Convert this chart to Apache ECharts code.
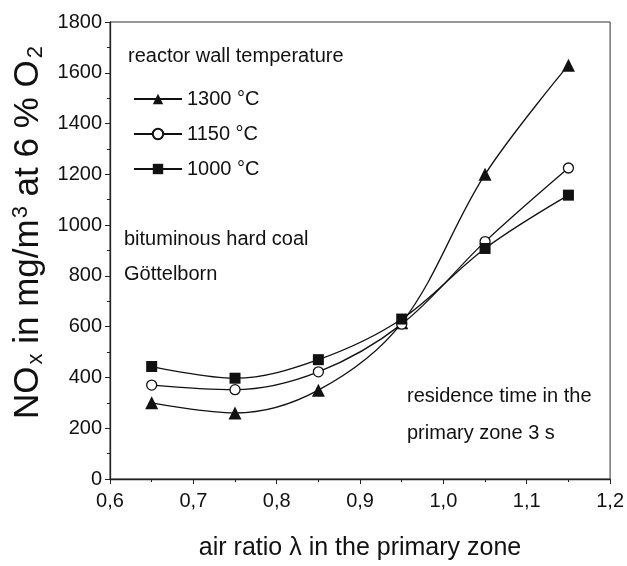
<!DOCTYPE html>
<html>
<head>
<meta charset="utf-8">
<script src="https://cdn.jsdelivr.net/npm/echarts@6/dist/echarts.min.js"></script>
<style>
  html, body { margin: 0; padding: 0; background: #fff; }
  #chart { width: 627px; height: 566px; }
</style>
</head>
<body>
<div id="chart"></div>
<script>
// air ratio in the primary zone
const airRatio = [0.65, 0.75, 0.85, 0.95, 1.05, 1.15]
// NOx in mg/m3 at 6 % O2, per reactor wall temperature
const nox1300 = [300, 260, 350, 615, 1200, 1630]
const nox1150 = [370, 352, 422, 610, 935, 1225]
const nox1000 = [443, 397, 470, 630, 908, 1118]
const yTicks = [0, 1800, 200]
const xTicks = [0.6, 1.2, 0.1]

const font = 'Liberation Sans, Arial, sans-serif'
const ink = '#111'

function pairs(ys) {
    return airRatio.map((x, i) => [x, ys[i]])
}

function makeSeries(name, symbol, size, ys) {
    const open = symbol === 'circle'
    return {
        name: name,
        type: 'line',
        smooth: 0.35,
        data: pairs(ys),
        symbol: symbol,
        symbolSize: size,
        lineStyle: { color: ink, width: 1.3 },
        itemStyle: { color: open ? '#fff' : ink, borderColor: ink, borderWidth: open ? 1.3 : 0 },
        emphasis: { disabled: true }
    }
}

const chart = echarts.init(document.getElementById('chart'))
chart.setOption({
    backgroundColor: '#fff',
    animation: false,
    textStyle: { fontFamily: font, color: ink },
    grid: {
        left: 110, right: 15, top: 22, bottom: 86,
        show: true, borderColor: '#333', borderWidth: 1
    },
    legend: {
        orient: 'vertical',
        left: 128, top: 84,
        itemWidth: 48, itemHeight: 13,
        itemGap: 15,
        textStyle: { fontSize: 20, color: ink, fontFamily: font },
        data: ['1300 °C', '1150 °C', '1000 °C']
    },
    xAxis: {
        type: 'value',
        min: xTicks[0], max: xTicks[1], interval: xTicks[2],
        name: 'air ratio λ in the primary zone',
        nameLocation: 'middle',
        nameGap: 57,
        nameTextStyle: { fontSize: 25, color: ink, fontFamily: font },
        axisLine: { lineStyle: { color: '#222', width: 1.3 } },
        axisTick: { length: 5, lineStyle: { color: '#222' } },
        minorTick: { show: true, splitNumber: 2, length: 3, lineStyle: { color: '#222' } },
        axisLabel: {
            fontSize: 20, color: ink, margin: 12,
            formatter: v => v.toFixed(1).replace('.', ',')
        },
        splitLine: { show: false }
    },
    yAxis: {
        type: 'value',
        min: yTicks[0], max: yTicks[1], interval: yTicks[2],
        name: '{t|NO}{sub|x}{t| in mg/m}{sup|3}{t| at 6 % O}{sub|2}',
        nameLocation: 'middle',
        nameGap: 56,
        nameRotate: 90,
        nameTextStyle: {
            padding: [0, 0, 0, 36],
            rich: {
                t: { fontSize: 35, color: ink, fontFamily: font },
                sub: { fontSize: 22, color: ink, fontFamily: font, verticalAlign: 'bottom', padding: [15, 0, 0, 2] },
                sup: { fontSize: 22, color: ink, fontFamily: font, verticalAlign: 'top', padding: [0, 0, 15, 1] }
            }
        },
        axisLine: { show: true, lineStyle: { color: '#222', width: 1.3 } },
        axisTick: { show: true, length: 5, lineStyle: { color: '#222' } },
        minorTick: { show: true, splitNumber: 2, length: 3, lineStyle: { color: '#222' } },
        axisLabel: { fontSize: 20, color: ink, margin: 8, formatter: v => String(v) },
        splitLine: { show: false }
    },
    graphic: [
        { type: 'text', left: 128, top: 46, style: { text: 'reactor wall temperature', font: '20px ' + font, fill: ink } },
        { type: 'text', left: 124, top: 229, style: { text: 'bituminous hard coal', font: '20px ' + font, fill: ink } },
        { type: 'text', left: 124, top: 264, style: { text: 'Göttelborn', font: '20px ' + font, fill: ink } },
        { type: 'text', left: 407, top: 386, style: { text: 'residence time in the', font: '20px ' + font, fill: ink } },
        { type: 'text', left: 407, top: 423, style: { text: 'primary zone 3 s', font: '20px ' + font, fill: ink } }
    ],
    series: [
        makeSeries('1300 °C', 'triangle', 13, nox1300),
        makeSeries('1150 °C', 'circle', 10, nox1150),
        makeSeries('1000 °C', 'rect', 11, nox1000)
    ]
})
</script>
</body>
</html>
